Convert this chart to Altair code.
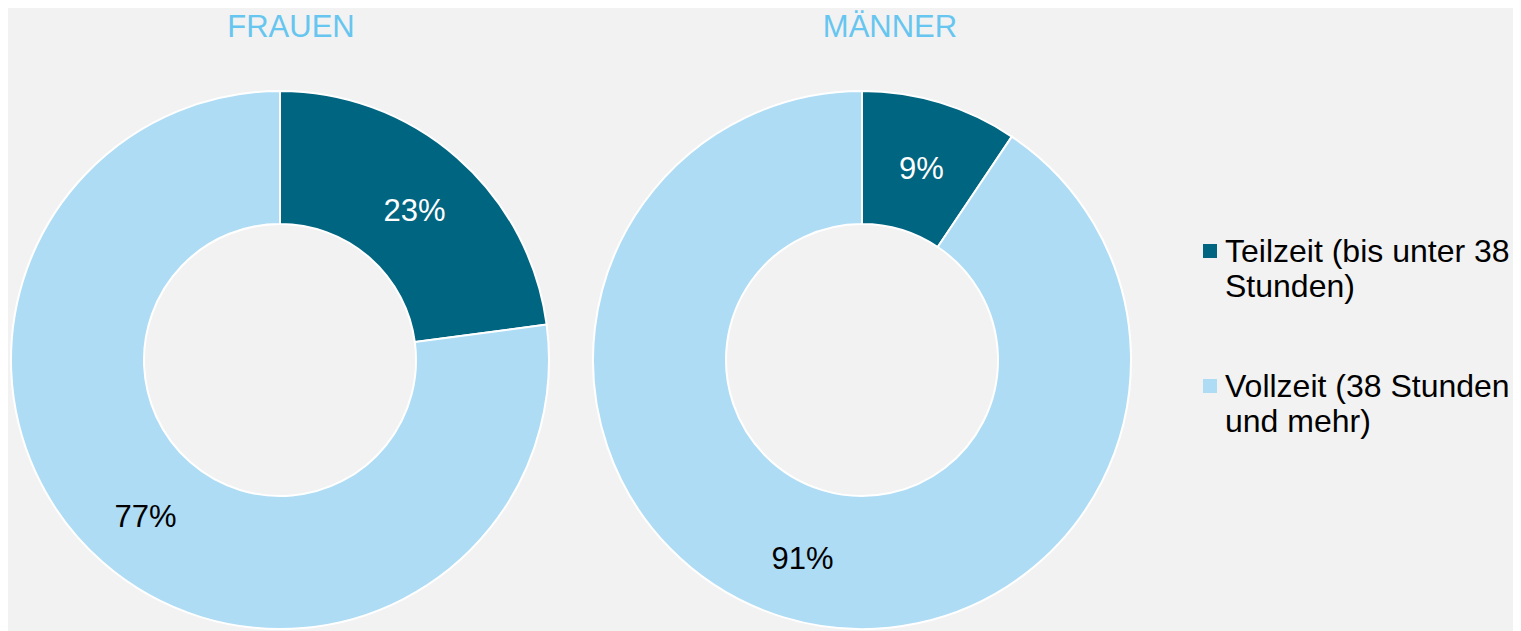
import altair as alt
import pandas as pd

# ---- data ----
genders = ["FRAUEN", "MÄNNER"]
categories = ["Teilzeit (bis unter 38 Stunden)", "Vollzeit (38 Stunden und mehr)"]
legend_lines = ["Teilzeit (bis unter 38|Stunden)", "Vollzeit (38 Stunden|und mehr)"]
frauen_values = [22.9, 77.1]
maenner_values = [9.4, 90.6]
label_texts_frauen = ["23%", "77%"]
label_texts_maenner = ["9%", "91%"]

rows = []
for g, vals, labs in [("FRAUEN", frauen_values, label_texts_frauen),
                      ("MÄNNER", maenner_values, label_texts_maenner)]:
    for i, (c, v, l) in enumerate(zip(categories, vals, labs)):
        rows.append({"gender": g, "cat": c, "value": v, "label": l, "ord": i})
df = pd.DataFrame(rows)
title_df = pd.DataFrame({"gender": genders})
legend_df = pd.DataFrame({"cat": categories, "text": legend_lines})

DARK = "#006580"
LIGHT = "#aedcf5"
FONT = "Liberation Sans"

color = alt.Color("cat:N", scale=alt.Scale(domain=categories, range=[DARK, LIGHT]), legend=None)

centers = {"FRAUEN": (272, 352), "MÄNNER": (854, 352)}
layers = []
for g in genders:
    cx, cy = centers[g]
    base = alt.Chart(df).transform_filter(alt.datum.gender == g)
    arc = base.mark_arc(outerRadius=269, innerRadius=136, stroke="white", strokeWidth=2).encode(
        theta=alt.Theta("value:Q", stack=True, scale=alt.Scale(domain=[0, 100])),
        order=alt.Order("ord:Q"),
        color=color,
        x=alt.value(cx), y=alt.value(cy),
    )
    txt = base.mark_text(radius=204, font=FONT, fontSize=31, align="center", baseline="middle", dy=5).encode(
        theta=alt.Theta("value:Q", stack=True, scale=alt.Scale(domain=[0, 100])),
        order=alt.Order("ord:Q"),
        text="label:N",
        color=alt.condition(alt.datum.ord == 0, alt.value("white"), alt.value("black")),
        x=alt.value(cx), y=alt.value(cy),
    )
    layers += [arc, txt]

titles = alt.Chart(title_df).mark_text(font=FONT, fontSize=31, color="#66c6f0",
                                       align="center", baseline="alphabetic").encode(
    x=alt.X("gender:N", scale=alt.Scale(type="point", domain=genders, range=[283, 882], padding=0),
            axis=None),
    y=alt.value(29),
    text="gender:N",
)

leg_y = alt.Y("cat:N", scale=alt.Scale(type="point", domain=categories, range=[243, 378], padding=0), axis=None)
leg_sq = alt.Chart(legend_df).mark_square(size=196, opacity=1).encode(
    x=alt.value(1202), y=leg_y, color=color,
)
leg_txt = alt.Chart(legend_df).mark_text(font=FONT, fontSize=32, align="left", baseline="alphabetic",
                                         lineBreak="|", lineHeight=35, dy=11, color="black").encode(
    x=alt.value(1217), y=leg_y, text="text:N",
)

chart = alt.layer(*layers, titles, leg_sq, leg_txt).properties(
    width=1505, height=623, autosize=alt.AutoSizeParams(type="none"), padding=0,
    background="#f2f2f2",
).configure_view(stroke=None)

chart.save("out.html", embed_options={"renderer": "svg", "actions": False})
